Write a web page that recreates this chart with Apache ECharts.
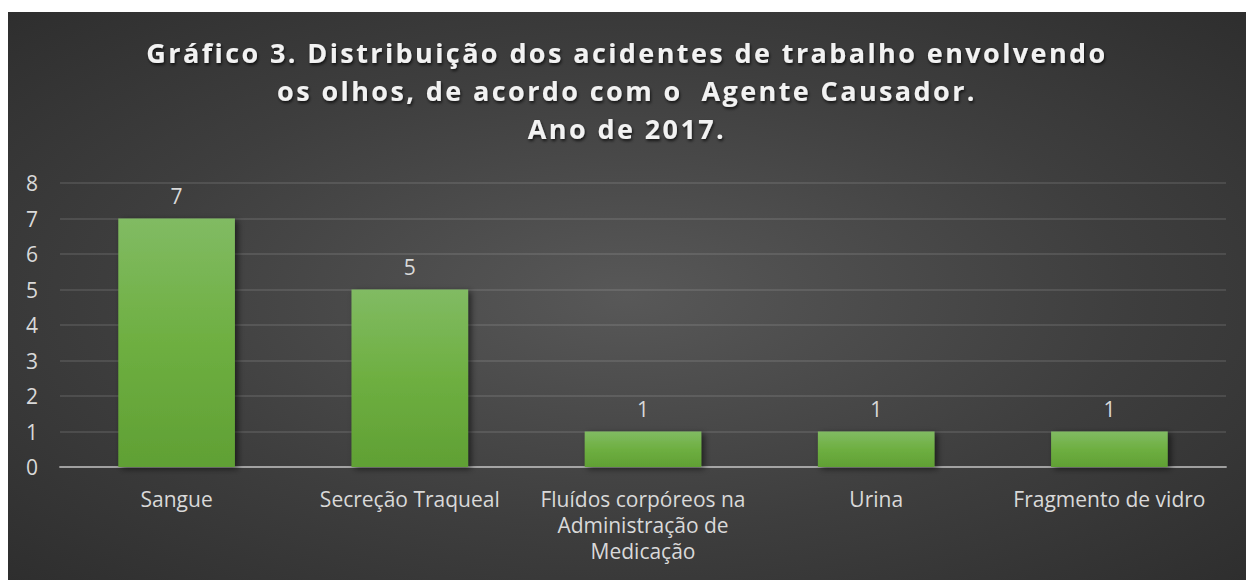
<!DOCTYPE html>
<html>
<head>
<meta charset="utf-8">
<script src="https://cdn.jsdelivr.net/npm/echarts@6/dist/echarts.min.js"></script>
<style>
  html, body { margin: 0; padding: 0; background: #ffffff; }
  #grafico3 { position: absolute; left: 8px; top: 12px; width: 1238px; height: 568px; }
  /* o título do Excel tem espaçamento entre letras */
  #grafico3 text[style*="bold"] { letter-spacing: 2.4px; }
</style>
</head>
<body>
<div id="grafico3"></div>
<script>
// dados do gráfico
var categorias = ['Sangue', 'Secreção Traqueal', 'Fluídos corpóreos na\nAdministração de\nMedicação', 'Urina', 'Fragmento de vidro'];
var valores = [7, 5, 1, 1, 1];
var yTicks = [0, 1, 2, 3, 4, 5, 6, 7, 8];
var titulo = 'Gráfico 3. Distribuição dos acidentes de trabalho envolvendo\nos olhos, de acordo com o  Agente Causador.\nAno de 2017.';

(function(window, doc) {

  var fonte = '"Open Sans", "DejaVu Sans", sans-serif';
  var myChart = echarts.init(doc.getElementById('grafico3'), null, { renderer: 'svg' });

  myChart.setOption({
    backgroundColor: new echarts.graphic.RadialGradient(0.5, 0.5, 0.9, [
      { offset: 0, color: '#585858' },
      { offset: 0.45, color: '#3e3e3e' },
      { offset: 1, color: '#242424' }
    ]),
    title: {
      text: titulo,
      left: 'center',
      top: 16,
      textStyle: {
        color: '#f2f2f2',
        fontFamily: fonte,
        fontWeight: 'bold',
        fontSize: 27,
        lineHeight: 38,
        align: 'center',
        textShadowColor: 'rgba(0,0,0,0.7)',
        textShadowBlur: 3,
        textShadowOffsetX: 1,
        textShadowOffsetY: 2
      }
    },
    grid: {
      left: 52,
      right: 20,
      top: 171,
      bottom: 113,
      containLabel: false
    },
    xAxis: {
      type: 'category',
      data: categorias,
      axisTick: { show: false },
      axisLine: {
        show: true,
        z: 5,
        lineStyle: { color: 'rgba(217,217,217,0.6)', width: 2 }
      },
      axisLabel: {
        color: '#d9d9d9',
        fontFamily: fonte,
        fontSize: 21,
        lineHeight: 26,
        margin: 19,
        interval: 0
      }
    },
    yAxis: {
      type: 'value',
      min: yTicks[0],
      max: yTicks[yTicks.length - 1],
      interval: 1,
      axisTick: { show: false },
      axisLine: { show: false },
      axisLabel: {
        color: '#d9d9d9',
        fontFamily: fonte,
        fontSize: 21,
        margin: 22
      },
      splitLine: {
        show: true,
        lineStyle: { color: 'rgba(255,255,255,0.1)', width: 2 }
      }
    },
    series: [
      {
        type: 'bar',
        data: valores,
        barWidth: '50%',
        itemStyle: {
          color: new echarts.graphic.LinearGradient(0, 0, 0, 1, [
            { offset: 0, color: '#81bb63' },
            { offset: 0.5, color: '#6eaf41' },
            { offset: 1, color: '#60a034' }
          ]),
          shadowColor: 'rgba(0,0,0,0.55)',
          shadowBlur: 6,
          shadowOffsetX: 3,
          shadowOffsetY: 2
        },
        label: {
          show: true,
          position: 'top',
          distance: 12,
          color: '#d9d9d9',
          fontFamily: fonte,
          fontSize: 21
        }
      }
    ]
  });

}(window, document));
</script>
</body>
</html>
